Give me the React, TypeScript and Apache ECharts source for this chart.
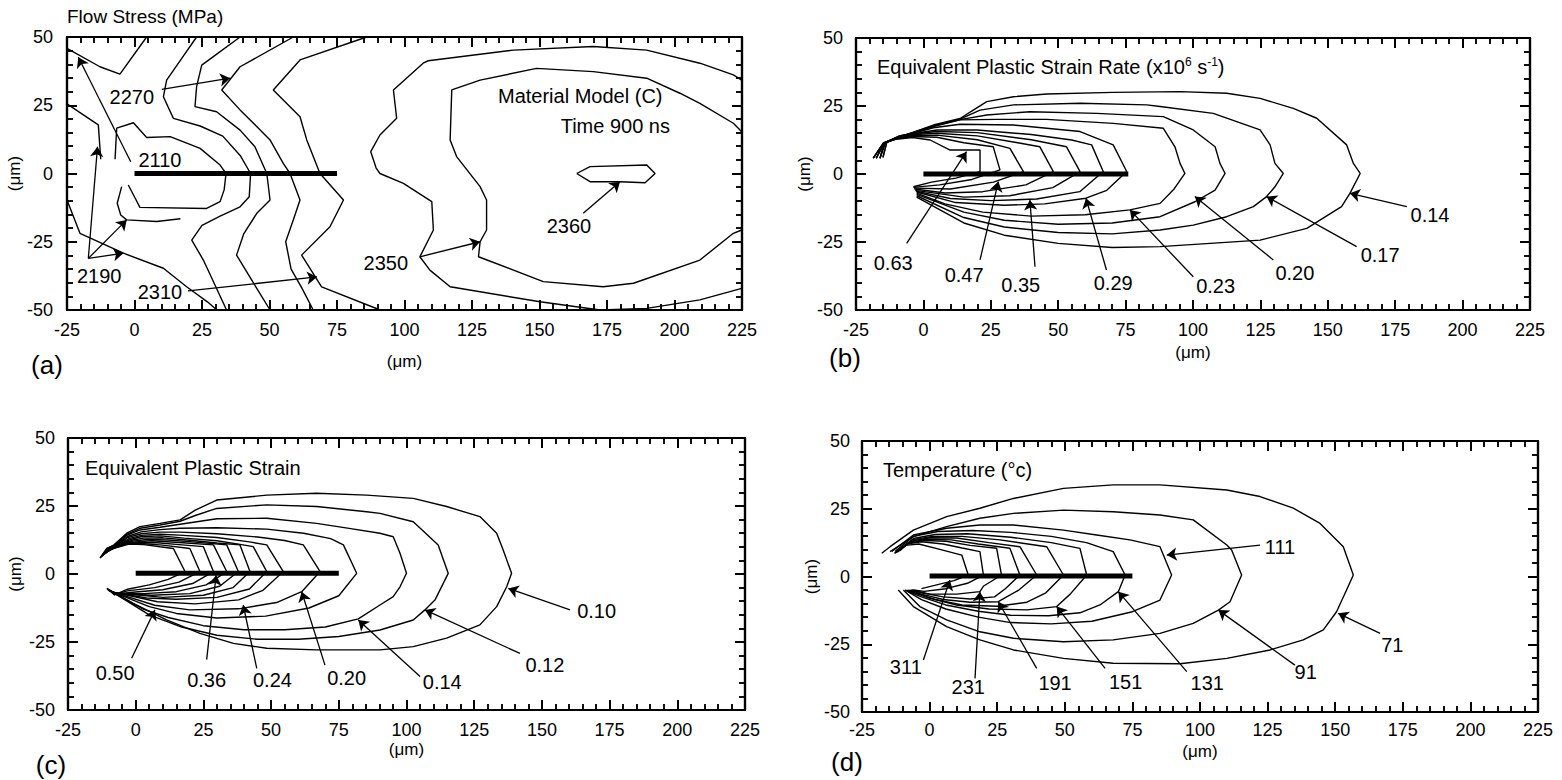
import React, { useEffect, useRef } from "react";
import * as echarts from "echarts";

const FONT = '"Liberation Sans", Arial, Helvetica, sans-serif';

const X_MIN = -25, X_MAX = 225, X_STEP = 25;
const Y_MIN = -50, Y_MAX = 50, Y_STEP = 25;

// ---------------- Panel (a) Flow Stress ----------------
const aCrack = [[0, 0], [75, 0]];
const aL1 = [[-25, 45.8], [-12.8, 39.1], [-5.4, 36.4], [4.5, 50]];
const aLeft = [[-25, 25.5], [-13.4, 17.8], [-12.5, 5.2]];
const aInner = [[-7.2, 5.2], [-6.6, 16.6], [-0.4, 18.6], [4.5, 13.2], [13.2, 13.5], [24.3, 9.2], [31.7, 3.1], [33.9, 0], [33.2, -6], [31.7, -10.3], [26.7, -12.8], [2, -12.4], [0.6, -9.7], [-2.3, -4.2]];
const aTipPiece = [[-4.75, -4.8], [-6.4, -10.9], [-5.1, -15.2], [-2.9, -17], [8.2, -17.6], [17, -16.6]];
const aC2 = [[23, 50], [17.5, 42.2], [11.9, 34.2], [10.7, 28.1], [14.4, 20.2], [24.3, 17.4], [32.7, 13.7], [39.3, 6.4], [43, 0], [42.5, -8.5], [39.1, -12.2], [31.7, -15.6], [25, -19], [21.2, -24.4], [25.5, -31.7], [34.1, -50]];
const aLow = [[-25, -9.7], [-20.2, -21.9], [-4.1, -29.2], [10.7, -34.7], [19.3, -41.5], [27, -47], [30.5, -50]];
const aC3 = [[39.1, 50], [29.2, 42.8], [24.9, 39.7], [23, 31.8], [22.4, 24.5], [30.4, 22.6], [39.1, 15.9], [44.6, 9.8], [49, 0], [50.2, -9.7], [45.3, -14.6], [40.5, -22], [37.8, -29.9], [44, -40], [50.2, -50]];
const aC4 = [[58.8, 50], [39.1, 39.1], [32.3, 30.6], [39.1, 23.3], [50.2, 12.3], [55.1, 3.7], [57.6, 0], [61.3, -9.7], [58.8, -17], [56, -25], [58, -35], [62, -42], [66.2, -50]];
const aC5 = [[86, 50], [61.3, 41.6], [51.4, 30.6], [61.3, 20.8], [63.8, 12.3], [68.7, 0], [77.4, -9.7], [72.4, -19.5], [61.9, -29.9], [66.9, -37.8], [69.3, -41.5], [91, -50]];
const aOuter = [[224.9, 34.2], [221.8, 36.1], [209.4, 40.4], [189.7, 45.2], [169.9, 46.5], [140.3, 45.2], [108.8, 41.3], [106.9, 40.4], [95.9, 30.6], [97.1, 20.2], [90.9, 14.1], [87.5, 8], [89.5, 2], [90.9, 0], [99.6, -3.6], [110.1, -10.3], [110.7, -20.7], [105.7, -30.5], [109.4, -35.4], [116.9, -41.5], [150.2, -47], [172.4, -50], [189.7, -49.4], [209.4, -46.3], [224.9, -42.1]];
const a2350 = [[224.9, 15.3], [221.8, 18.4], [209.4, 25.7], [202, 29.4], [189.7, 34.9], [169.9, 37.3], [148.9, 38.5], [128, 34.2], [117.5, 30.6], [116.9, 12.3], [119.3, 6.2], [128, -4.8], [130.4, -9.7], [130.4, -20.7], [128, -25], [127.4, -30.5], [151.4, -39.6], [173.6, -41.5], [184.8, -40.2], [209.4, -31.7], [221.8, -21.9], [224.9, -20.7]];
const a2360 = [[163.8, 0], [168.7, 2.5], [189.7, 3.1], [192.8, 0], [189.1, -3.4], [179.8, -3], [168.7, -3], [163.8, 0]];
const aContours = [aL1, aLeft, aInner, aTipPiece, aC2, aLow, aC3, aC4, aC5, aOuter, a2350, a2360];
const aLabelNames = ["2270", "2110", "2190", "2310", "2350", "2360"];
const aLabelPos = [[-1, 28.1], [9.4, 4.9], [-13.1, -37.4], [9.4, -43.5], [93.1, -32.9], [160.9, -19.1]];
const aArrows = [
  [[10.1, 30.8], [35.4, 34.9]],
  [[-1.4, 4.3], [-20.8, 42.6]],
  [[-17.1, -31.1], [-13.7, 9.8]],
  [[-17.1, -31.1], [-2.9, -17]],
  [[-17.1, -31.1], [-4.1, -29.2]],
  [[19.8, -43], [67.6, -37.9]],
  [[105.7, -30.5], [128, -25]],
  [[166.2, -14.6], [179.8, -3]],
];

// ---------------- Panel (b) Equivalent Plastic Strain Rate ----------------
const bCrack = [[0, 0], [76, 0]];
const b1 = [[-18.6, 5.8], [-14.9, 11.3], [-10, 12.8], [-4, 13.4], [2.5, 12.5], [9.9, 8.8], [21, 8.8], [21, 0.9], [12, -1.5], [3, -3], [-3.7, -4.7]];
const b2 = [[-17.5, 5.8], [-14.5, 11.3], [-10, 13], [-4, 13.8], [5, 13.5], [15, 11.5], [25.9, 10], [28.4, 1.5], [18, -2], [6, -4], [-3.7, -4.9]];
const b3 = [[-16.1, 5.8], [-14, 11.5], [-10, 13.2], [-4, 14.1], [5, 14.3], [20, 12.6], [32.1, 9.4], [37.1, 0.9], [26, -3], [10, -5.5], [-3.5, -5.2]];
const b4 = [[-15, 6.2], [-13.5, 11.8], [-9, 13.6], [-3, 14.5], [5, 15], [20, 14], [35, 11.5], [43.2, 10], [48.2, 0.9], [38, -4], [22, -6.5], [8, -7], [-3.3, -5.5]];
const b5 = [[-18.6, 5.8], [-14.9, 11.3], [-9, 13.8], [-3, 14.8], [5, 15.6], [20, 15.2], [40, 12.6], [53.1, 10], [58.1, 0.9], [48, -5], [32, -8], [15, -8.5], [-3, -6]];
const b6 = [[-17.5, 5.8], [-14.7, 11.3], [-9, 14], [-3, 15], [5, 16.2], [20, 16.2], [40, 14.5], [55, 12.5], [62.4, 10.7], [66.7, 0.9], [58, -6.5], [42, -9.2], [25, -9.8], [10, -9], [-2.8, -6.3]];
const b7 = [[-16.1, 5.8], [-14.5, 11.5], [-8, 14.2], [-3.7, 15], [3.7, 17], [13.6, 18.3], [33.4, 18], [58.1, 15.6], [70.4, 10.7], [75.4, 0.9], [68, -6], [60.3, -8.9], [45, -11], [30, -11.5], [12, -10.5], [-2.5, -6.6]];
const b8 = [[-15, 6], [-13.6, 11.8], [-7.4, 14], [-3.7, 15.2], [3.7, 17.4], [13.6, 19.9], [27.2, 20.1], [45.7, 20.1], [70.4, 18.6], [89, 16.8], [93.3, 10], [95.2, 3.9], [97, 0.2], [93, -5.5], [87.8, -10.8], [76.6, -13.2], [60, -15], [40, -15.5], [22, -14], [8, -11], [-2.5, -7]];
const b9 = [[-18.6, 5.8], [-14.9, 11.3], [-7.4, 14], [-3.7, 15.2], [3.7, 17.6], [13.6, 20], [23.5, 21.7], [39.5, 22.9], [64.3, 22.3], [89, 21.1], [100.1, 16.2], [108.2, 10], [110, 3.9], [111.9, 0.2], [108.2, -5.9], [100.7, -10.2], [87.8, -15.7], [70, -18], [50, -18.5], [30, -17], [15, -14], [-2.5, -7.5]];
const b10 = [[-17.5, 5.8], [-14.7, 11.3], [-7.4, 14], [-3.7, 15.3], [3.7, 17.8], [13.6, 20.2], [21, 23.5], [33.4, 25.4], [58.1, 26], [82.8, 25.4], [87.8, 24.8], [107.5, 22.3], [124.9, 16.2], [128.6, 10.7], [130.4, 3.9], [133.5, 0.2], [130.4, -4.7], [127.3, -8.3], [122.4, -12], [112.5, -15.7], [100.1, -18.8], [87.8, -20.6], [70, -22], [50, -21.5], [30, -19.5], [15, -16], [-2.5, -8]];
const b11 = [[-16.1, 5.8], [-14.5, 11.5], [-7.4, 14.2], [-3.7, 15.4], [3.7, 18], [13.6, 20.4], [18.5, 23.5], [23.5, 26.6], [33.4, 28.4], [45.7, 29.4], [70.4, 30], [95.2, 30.3], [112.5, 29.7], [124.9, 27.8], [137.2, 24.1], [145.9, 20.5], [157, 10.7], [159.5, 3.9], [162, 0.2], [158.2, -7.1], [155.1, -12], [142.2, -20], [124.9, -24.3], [87.8, -26.7], [70, -27], [50, -25.5], [30, -22.5], [15, -18], [-2.5, -8.5]];
const bContours = [b1, b2, b3, b4, b5, b6, b7, b8, b9, b10, b11];
const bLabelNames = ["0.63", "0.47", "0.35", "0.29", "0.23", "0.20", "0.17", "0.14"];
const bLabelPos = [[-11.2, -32.8], [15.1, -37.1], [36.1, -40.8], [70.4, -40.2], [108.4, -41], [137.8, -36.5], [169.4, -29.8], [187.9, -15.1]];
const bArrows = [
  [[-6.2, -25.5], [16, 8.2]],
  [[21, -31.6], [27.8, -2.8]],
  [[41.4, -34.1], [39.5, -9.6]],
  [[67.9, -35.3], [60.3, -8.9]],
  [[100.1, -37.8], [76.6, -13.2]],
  [[129.8, -31.6], [100.7, -8.3]],
  [[160.7, -26.7], [127.3, -8.3]],
  [[179.3, -12], [158.2, -7.1]],
];

// ---------------- Panel (c) Equivalent Plastic Strain ----------------
const cCrack = [[0, 0.3], [75, 0.3]];
const k1 = [[-10.8, 8.2], [-8, 9.4], [-2.5, 11], [3, 10.8], [9, 10], [13.9, 9.4], [18.2, 0.9], [12, -2], [5, -4], [-3, -5.6], [-8, -7.8]];
const k2 = [[-11, 8], [-8.2, 9.4], [-3, 11.2], [2, 11.2], [10, 10.6], [20, 9.4], [23.7, 0.9], [16, -3], [7, -5], [-3, -6.2], [-8.2, -7.6]];
const k3 = [[-11.2, 7.8], [-8.4, 9.4], [-3.5, 11.2], [1, 11.5], [8, 11.5], [16, 10.8], [25, 10.05], [28.7, 0.9], [21, -3.5], [10, -5.8], [0, -6.6], [-8.4, -7.4]];
const k4 = [[-11.4, 7.6], [-8.6, 9.4], [-4, 11.2], [0, 11.8], [6, 12.2], [16, 11.6], [28.7, 10.7], [33.6, 0.9], [26, -4], [15, -6.5], [3, -7.2], [-8.6, -7.2]];
const k5 = [[-11.6, 7.4], [-8.8, 9.4], [-4.5, 11.1], [-1, 12.1], [4, 12.7], [12, 12.5], [22, 11.7], [33.6, 10.7], [37.9, 0.9], [31, -4.5], [20, -7.2], [6, -7.8], [-8.8, -7]];
const k6 = [[-11.8, 7.2], [-9, 9.4], [-5, 11], [-1.5, 12.4], [3, 13.2], [10, 13.3], [20, 12.4], [30, 11.4], [38.5, 10.7], [42.2, 0.9], [36, -5], [25, -7.8], [10, -8.6], [-9, -6.8]];
const k7 = [[-12, 7], [-9.2, 9.4], [-5.5, 10.9], [-2, 12.7], [2, 13.7], [9, 14], [18, 13.2], [30, 12.2], [38, 11], [43.4, 10.05], [48.4, 0.9], [42, -5.5], [30, -8.6], [15, -9.3], [4, -8.8], [-9.2, -6.6]];
const k8 = [[-12.2, 6.8], [-9.5, 9.4], [-6, 10.8], [-2.5, 13], [2, 14.2], [9, 14.6], [16, 14.3], [30, 13.4], [42, 11.8], [48.4, 10.7], [54.5, 0.9], [47, -6], [38, -9.5], [22, -11], [8, -10.2], [-9.5, -6.4]];
const k9 = [[-12.4, 6.6], [-9.8, 9.4], [-6.5, 10.7], [-3, 13.4], [2, 14.8], [9, 15.4], [16.4, 15.4], [30, 14.8], [45, 13.6], [55, 12.3], [61.9, 10.7], [68.1, 0.9], [61.3, -6.5], [52, -10.5], [38, -12.8], [20, -13.2], [7, -11.5], [-9.8, -6.2]];
const k10 = [[-12.6, 6.4], [-10, 9.4], [-7, 10.6], [-3, 13.8], [2, 15.5], [9, 16.3], [16.4, 16.8], [30, 17], [48.4, 16.5], [62, 15], [72, 13], [76.7, 10.7], [81.6, 0.25], [75, -8], [64, -12.5], [48, -15.5], [30, -16.2], [15, -14.5], [5, -12], [-10, -6]];
const k11 = [[-12.8, 6.2], [-10.3, 9.4], [-7.5, 10.5], [-3.3, 14.2], [1.6, 16.2], [9, 17.2], [16.4, 18.3], [30, 20.3], [48.4, 20.5], [66.8, 18.6], [80, 16.6], [90.2, 15], [95.1, 13.7], [97.6, 7.6], [100, 0.25], [97.6, -4.7], [95.1, -8.3], [90.2, -11.4], [82.2, -16.5], [70, -19.5], [55, -20.5], [40, -20.5], [25, -19], [12, -16], [3, -13], [-10.3, -5.8]];
const k12 = [[-13, 6], [-10.5, 9.4], [-8, 10.5], [-3.3, 14.6], [1.6, 16.8], [9, 18], [16.4, 19.4], [22, 21.5], [29.9, 24.1], [48.4, 25.4], [66.8, 24.8], [85.3, 22.9], [90.2, 22.3], [102.5, 19.2], [111.7, 10.7], [115.4, 0.25], [110.5, -9.6], [106.8, -13.2], [102.5, -16.9], [90.2, -20.6], [75, -23], [60, -24], [45, -24], [30, -22.5], [17, -19.5], [5, -15], [-10.5, -5.5]];
const k13 = [[-13.2, 5.8], [-10.7, 9.4], [-8.3, 10.5], [-3.3, 15], [1.6, 17.4], [9, 18.6], [16.4, 19.9], [22, 23.5], [29.9, 27.2], [48.4, 29], [66.8, 29.7], [85.3, 29], [102.5, 27.8], [114.8, 24.8], [127.1, 21.1], [133.3, 15], [135.7, 8.8], [138.8, 0.25], [137, -4.7], [133.3, -12], [127.1, -18.7], [114.8, -23.6], [102.5, -26.7], [90.2, -27.9], [66.8, -27.9], [48.4, -27.3], [36.1, -25.5], [23.7, -21.8], [11.4, -16.9], [-0.9, -10.8], [-10.7, -5.3]];
const cContours = [k1, k2, k3, k4, k5, k6, k7, k8, k9, k10, k11, k12, k13];
const cLabelNames = ["0.50", "0.36", "0.24", "0.20", "0.14", "0.12", "0.10"];
const cLabelPos = [[-7.6, -36.5], [26.2, -39], [50.5, -39], [77.9, -38.4], [113.2, -39.6], [151.1, -33.5], [170.2, -13.6]];
const cArrows = [
  [[-1.5, -31], [7.1, -13.2]],
  [[26.2, -31.5], [29.7, -0.5]],
  [[44.7, -34.7], [39.7, -11.4]],
  [[69.9, -33.5], [61.3, -6.5]],
  [[105, -37.7], [82.2, -16.9]],
  [[141.9, -29.2], [106.8, -13.2]],
  [[160.4, -13.2], [137.6, -5.3]],
];

// ---------------- Panel (d) Temperature ----------------
const dCrack = [[0, 0.2], [75, 0.2]];
const dA = [[-13, 8.6], [-9, 11.5], [-4, 12], [3.8, 10], [11.9, 7.9], [14.3, 0.55], [9, -1.5], [3, -3], [-3, -4.5]];
const dB = [[-12.8, 8.6], [-8.5, 12], [-3, 12.8], [5, 12], [12, 10.5], [18.6, 9.2], [19.9, 0.55], [14, -2.5], [6, -4.5], [-2, -5.5], [-6, -5]];
const dC = [[-12.5, 8.8], [-8, 12.3], [-2, 13.3], [6, 13], [15, 11.5], [24.8, 10.4], [26.6, 0.55], [20, -3.5], [18.6, -5.6], [10, -6.5], [0, -6.5], [-6.5, -5]];
const dD = [[-12, 9], [-7.5, 12.6], [-1, 13.8], [8, 13.5], [18, 12], [29.7, 10.4], [33.4, 0.55], [28, -4.5], [24, -7.5], [15, -8.3], [5, -7.5], [-3, -6], [-7, -5]];
const dE = [[-11.6, 9.2], [-7, 13], [0, 14.3], [10, 14.2], [22, 12.5], [33.4, 11], [39.6, 0.55], [33, -5], [25.4, -9.3], [15, -9.5], [5, -8.5], [-3, -6.5], [-7.5, -5]];
const dF = [[-11.6, 9.5], [-6.5, 13.5], [1, 14.8], [12, 14.8], [26, 13.5], [43.3, 11], [49.5, 0.55], [43, -6], [36, -9.5], [25, -11], [12, -10.5], [2, -8.5], [-4, -6.5], [-8, -5]];
const dG = [[-11, 9.5], [-6, 14], [2, 15.5], [14, 15.8], [30, 14.5], [45, 12.5], [55.6, 10.4], [58.1, 0.55], [52, -6.5], [47, -11.1], [36, -12.3], [22, -12], [10, -10.5], [0, -8], [-8.5, -5]];
const dH = [[-12.8, 9.2], [-6, 14.8], [3, 16.6], [16, 17], [30, 16.3], [45, 14.8], [58, 12.5], [67.9, 9.2], [72.3, 0.55], [69.8, -5.6], [63, -10.5], [55.6, -13.4], [44, -14.5], [30, -14.3], [18, -12.8], [6, -10.5], [-3, -7.5], [-9, -5]];
const d111 = [[-14, 9.2], [-6, 15.3], [6.3, 17.8], [18.6, 19], [31, 19], [49.5, 17.1], [61.8, 15.3], [74.1, 13.5], [85.2, 11], [89.5, 0.55], [85.2, -8.7], [75, -13], [60, -16.5], [45, -17.5], [30, -17], [18, -15], [6, -12], [-3, -8.5], [-9, -5]];
const d91 = [[-14.6, 9.2], [-6, 14.7], [6.3, 18.4], [18.6, 21.5], [31, 23.3], [49.5, 24.5], [67.9, 23.9], [85.2, 22.7], [97.5, 20.9], [109.9, 11.6], [111.7, 9.8], [115.4, 0.55], [111.1, -9.3], [106.8, -12.4], [97.5, -17.3], [85.2, -21], [67.9, -23.4], [49.5, -24.1], [31, -22.8], [18.6, -20.4], [6.3, -16], [-3.6, -11.1], [-9.7, -5]];
const d71 = [[-17.7, 8.6], [-14.6, 11], [-6, 17.1], [6.3, 22.1], [18.6, 25.2], [31, 28.8], [49.5, 32.5], [67.9, 33.8], [85.2, 33.8], [109.9, 31.9], [122.2, 29.5], [134.5, 25.2], [144.4, 19.6], [153, 11], [156.7, 0.55], [154.2, -5], [150.5, -13], [145.6, -19.7], [138.2, -23.4], [125.9, -27.1], [109.9, -30.2], [92.6, -32.2], [67.9, -32], [49.5, -30.2], [31, -27.1], [18.6, -23.4], [6.3, -18.5], [-6, -11.1], [-11.6, -5]];
const dContours = [dA, dB, dC, dD, dE, dF, dG, dH, d111, d91, d71];
const dLabelNames = ["311", "231", "191", "151", "131", "111", "91", "71"];
const dLabelPos = [[-8.8, -33.3], [14.3, -40.6], [46.4, -39.4], [72.5, -38.8], [102.7, -39.4], [129.6, 11], [139.1, -35.1], [171.1, -25.3]];
const dArrows = [
  [[-2.3, -30.8], [7.5, -1.3]],
  [[16.8, -37.6], [18.6, -5.6]],
  [[39.6, -33.9], [25.4, -9.3]],
  [[64.9, -33.9], [47, -11.1]],
  [[95.1, -35.1], [69.8, -5.6]],
  [[122.2, 11.6], [87.7, 7.9]],
  [[135.1, -32.7], [106.8, -12.4]],
  [[166.6, -21], [151.1, -13.6]],
];

const GRIDS = [
  { left: 67, top: 37, width: 675, height: 273 },
  { left: 856, top: 38, width: 674, height: 272 },
  { left: 68, top: 438, width: 677, height: 272 },
  { left: 862, top: 441, width: 676, height: 271 },
];
const AXIS_LAYOUT = [
  { xMargin: 11, xGap: 43, yMargin: 14, yGap: 36 },
  { xMargin: 11, xGap: 34, yMargin: 13, yGap: 39 },
  { xMargin: 11, xGap: 31, yMargin: 13, yGap: 44 },
  { xMargin: 9, xGap: 31, yMargin: 12, yGap: 31 },
];

function axisParts() {
  return {
    axisLine: { show: true, onZero: false, lineStyle: { color: "#000", width: 2.2 } },
    axisTick: { show: true, inside: true, length: 10, lineStyle: { color: "#000", width: 2 } },
    minorTick: { show: true, splitNumber: 5, length: 6, lineStyle: { color: "#000", width: 1.5 } },
    splitLine: { show: false },
  };
}

// withText: main chart draws tick labels and axis names; the overlay draws only lines + ticks
function buildAxes(withText: boolean) {
  const xAxis: any[] = [];
  const yAxis: any[] = [];
  GRIDS.forEach((_, gi) => {
    const L = AXIS_LAYOUT[gi];
    const xb: any = {
      type: "value", gridIndex: gi, position: "bottom", min: X_MIN, max: X_MAX, interval: X_STEP,
      ...axisParts(),
      axisLabel: withText ? { color: "#000", fontSize: 18, fontFamily: FONT, margin: L.xMargin } : { show: false },
    };
    if (withText) {
      xb.name = "(\u03bcm)"; xb.nameLocation = "middle"; xb.nameGap = L.xGap;
      xb.nameTextStyle = { color: "#000", fontSize: 17, fontFamily: FONT };
    }
    xAxis.push(xb);
    xAxis.push({
      type: "value", gridIndex: gi, position: "top", min: X_MIN, max: X_MAX, interval: X_STEP,
      ...axisParts(), axisLabel: { show: false },
    });
    const yl: any = {
      type: "value", gridIndex: gi, position: "left", min: Y_MIN, max: Y_MAX, interval: Y_STEP,
      ...axisParts(),
      axisLabel: withText ? { color: "#000", fontSize: 18, fontFamily: FONT, margin: L.yMargin } : { show: false },
    };
    if (withText) {
      yl.name = "(\u03bcm)"; yl.nameLocation = "middle"; yl.nameGap = L.yGap;
      yl.nameTextStyle = { color: "#000", fontSize: 17, fontFamily: FONT };
    }
    yAxis.push(yl);
    yAxis.push({
      type: "value", gridIndex: gi, position: "right", min: Y_MIN, max: Y_MAX, interval: Y_STEP,
      ...axisParts(), axisLabel: { show: false },
    });
  });
  return { xAxis, yAxis };
}

function panelSeries(gi: number, crack: number[][], contours: number[][][], names: string[], pos: number[][], arrows: number[][][]) {
  const xi = gi * 2, yi = gi * 2;
  const out: any[] = [];
  contours.forEach((c) => {
    out.push({
      type: "line", xAxisIndex: xi, yAxisIndex: yi, data: c, showSymbol: false, symbol: "none",
      lineStyle: { color: "#000", width: 1.4 }, silent: true, z: 2,
    });
  });
  out.push({
    type: "line", xAxisIndex: xi, yAxisIndex: yi, data: crack, showSymbol: false, symbol: "none",
    lineStyle: { color: "#000", width: 5, cap: "butt" }, silent: true, z: 3,
  });
  out.push({
    type: "lines", coordinateSystem: "cartesian2d", xAxisIndex: xi, yAxisIndex: yi,
    symbol: ["none", "arrow"], symbolSize: [1, 10],
    lineStyle: { color: "#000", width: 1.3, opacity: 1, curveness: 0 },
    data: arrows.map((a) => ({ coords: a })), silent: true, z: 4,
  });
  out.push({
    type: "scatter", xAxisIndex: xi, yAxisIndex: yi, symbolSize: 1,
    itemStyle: { color: "rgba(0,0,0,0)" },
    data: names.map((n, i) => ({ name: n, value: pos[i] })),
    label: {
      show: true, position: "inside", formatter: "{b}", color: "#000", opacity: 1,
      textBorderWidth: 0, fontSize: 20, fontFamily: FONT,
    },
    silent: true, z: 5,
  });
  return out;
}

function txt(text: string, x: number, y: number, size: number, align = "left") {
  return {
    type: "text", x, y, silent: true,
    style: { text, fontSize: size, fontFamily: FONT, fill: "#000", align, verticalAlign: "middle" },
  };
}

const BOX: React.CSSProperties = { position: "fixed", left: 0, top: 0, width: 1562, height: 780 };

export default function App() {
  const ref = useRef<HTMLDivElement>(null);
  const frameRef = useRef<HTMLDivElement>(null);
  useEffect(() => {
    if (!ref.current || !frameRef.current) return;
    const chart = echarts.init(ref.current, null, { renderer: "svg" });
    const main = buildAxes(true);
    const series = [
      ...panelSeries(0, aCrack, aContours, aLabelNames, aLabelPos, aArrows),
      ...panelSeries(1, bCrack, bContours, bLabelNames, bLabelPos, bArrows),
      ...panelSeries(2, cCrack, cContours, cLabelNames, cLabelPos, cArrows),
      ...panelSeries(3, dCrack, dContours, dLabelNames, dLabelPos, dArrows),
    ];
    const graphic = [
      txt("Flow Stress (MPa)", 67, 16, 19),
      txt("Material Model (C)", 498, 96, 20),
      txt("Time 900 ns", 670, 126, 20, "right"),
      {
        type: "text", x: 877, y: 67, silent: true,
        style: {
          text: "{n|Equivalent Plastic Strain Rate (x10}{s|6}{n| s}{s|-1}{n|)}",
          fontFamily: FONT, fill: "#000", verticalAlign: "middle", align: "left",
          rich: {
            n: { fontSize: 20, fontFamily: FONT, fill: "#000", color: "#000" },
            s: { fontSize: 12, fontFamily: FONT, fill: "#000", color: "#000", padding: [0, 0, 10, 0] },
          },
        },
      },
      txt("Equivalent Plastic Strain", 85, 468, 20),
      txt("Temperature (\u00b0c)", 883, 470, 20),
      txt("(a)", 47, 365, 26, "center"),
      txt("(b)", 845, 358, 26, "center"),
      txt("(c)", 51, 765, 26, "center"),
      txt("(d)", 847, 762, 26, "center"),
    ];
    chart.setOption({
      animation: false,
      grid: GRIDS,
      xAxis: main.xAxis,
      yAxis: main.yAxis,
      series,
      graphic,
    });

    // Frame overlay: same grids and axes, drawing only the axis lines with their inward ticks
    const frame = echarts.init(frameRef.current, null, { renderer: "svg" });
    const fr = buildAxes(false);
    frame.setOption({
      animation: false,
      grid: GRIDS,
      xAxis: fr.xAxis,
      yAxis: fr.yAxis,
      series: GRIDS.map((_, gi) => ({
        type: "line", xAxisIndex: gi * 2, yAxisIndex: gi * 2, data: [], showSymbol: false, silent: true,
      })),
    });
    return () => {
      chart.dispose();
      frame.dispose();
    };
  }, []);
  return (
    <>
      <div ref={ref} style={{ ...BOX, background: "#fff" }} />
      <div ref={frameRef} style={{ ...BOX, pointerEvents: "none" }} />
    </>
  );
}
